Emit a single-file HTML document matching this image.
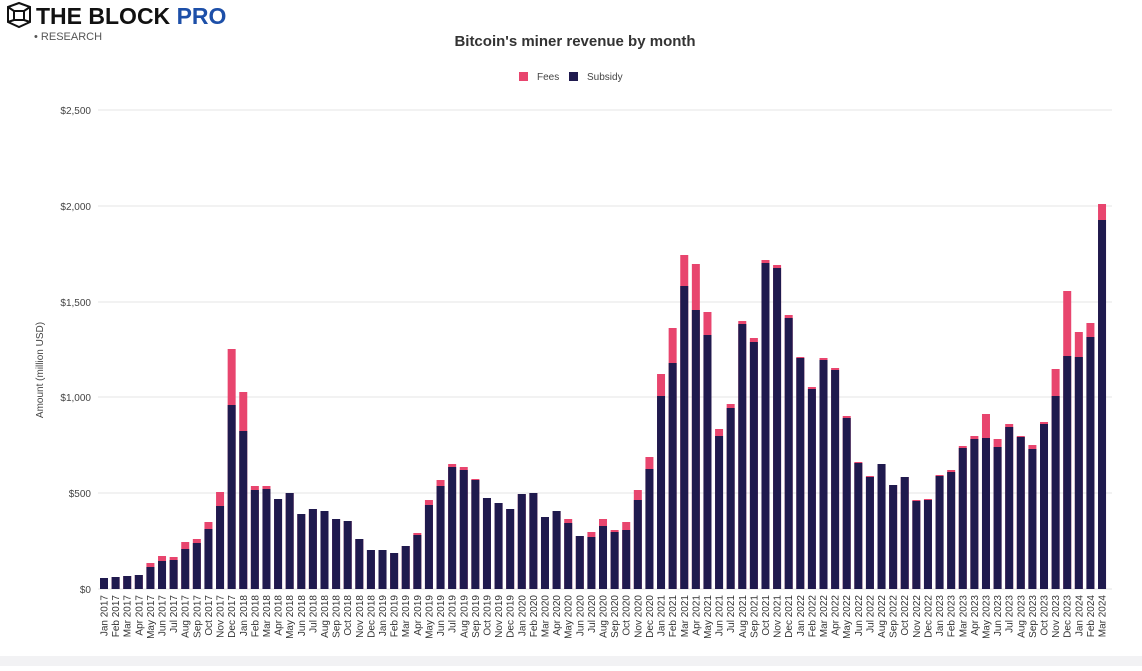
<!DOCTYPE html>
<html><head><meta charset="utf-8"><style>
body{margin:0;background:#fff;width:1142px;height:666px;overflow:hidden;font-family:"Liberation Sans",sans-serif}
</style></head><body>
<svg id="s" width="1142" height="666" xmlns="http://www.w3.org/2000/svg" font-family="Liberation Sans, sans-serif">
<rect x="0" y="656" width="1142" height="10" fill="#f2f2f4"/>
<g stroke="#111" stroke-width="2" fill="none"><path d="M8 7 L19 3 L30 7 L30 22 L19 27 L8 22 Z M14 11 L24 11 L24 20 L14 20 Z M8 7 L14 11 M30 7 L24 11 M30 22 L24 20 M8 22 L14 20"/></g>
<text x="36" y="24" font-size="23" font-weight="bold" fill="#111">THE BLOCK <tspan fill="#1d4fa8">PRO</tspan></text>
<text x="34" y="40" font-size="11" fill="#555">• RESEARCH</text>
<text x="575" y="46" font-size="15" font-weight="bold" fill="#333" text-anchor="middle">Bitcoin's miner revenue by month</text>
<rect x="519" y="72" width="9" height="9" fill="#e8456e"/><text x="537" y="80" font-size="10" fill="#444">Fees</text>
<rect x="569" y="72" width="9" height="9" fill="#1f1a4e"/><text x="587" y="80" font-size="10" fill="#444">Subsidy</text>
<text transform="translate(43,370) rotate(-90)" font-size="10" fill="#444" text-anchor="middle">Amount (million USD)</text>
<g id="g"></g>
</svg>
<script>
const g=document.getElementById('g');let h='';
const gl=[[110,'$2,500'],[206,'$2,000'],[302,'$1,500'],[397,'$1,000'],[493,'$500'],[589,'$0']];
for(const [y,t] of gl){h+=`<line x1="98" x2="1112" y1="${y}" y2="${y}" stroke="#e4e4e4"/><text x="91" y="${y+4}" font-size="10" fill="#444" text-anchor="end">${t}</text>`;}
const T=[578,577,576,575,563,556,557,542,539,522,492,349, 392,486,486,499,493,514,509,511,519,521,539,550, 550,553,546,533,500,480,464,467,479,498,503,509, 494,493,517,511,519,536,532,519,530,522,490,457, 374,328,255,264,312,429,404,321,338,260,265,315, 357,387,358,368,416,462,476,464,485,477,500,499, 475,470,446,436,414,439,424,436,445,422,369,291, 332,323,204];
const S=[578,577,576,575,567,561,560,549,543,529,506,405, 431,490,489,499,493,514,509,511,519,521,539,550, 550,553,546,535,505,486,467,470,480,498,503,509, 494,493,517,511,523,536,537,526,532,530,500,469, 396,363,286,310,335,436,408,324,342,263,268,318, 358,389,360,370,418,463,477,464,485,477,501,500, 476,472,448,439,438,447,427,437,449,424,396,356, 357,337,220];
const M=['Jan','Feb','Mar','Apr','May','Jun','Jul','Aug','Sep','Oct','Nov','Dec'];
for(let i=0;i<87;i++){const cx=104+i*11.605,x=cx-4;
h+=`<rect x="${x}" y="${T[i]}" width="8" height="${589-T[i]}" fill="#e8456e"/><rect x="${x}" y="${S[i]}" width="8" height="${589-S[i]}" fill="#1f1a4e"/>`;
h+=`<text transform="translate(${cx+3.5},595) rotate(-90)" font-size="10" fill="#333" text-anchor="end">${M[i%12]} ${2017+Math.floor(i/12)}</text>`;}
g.innerHTML=h;
</script>
</body></html>
